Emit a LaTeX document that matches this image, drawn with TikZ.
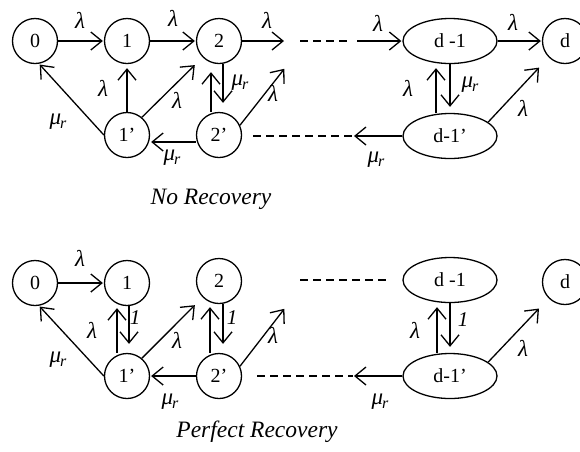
\documentclass[tikz,border=0pt]{standalone}
\usepackage{fontspec}
\setmainfont{Liberation Serif}
\usetikzlibrary{arrows.meta,shapes.geometric}
\newcommand{\lam}{{\fontsize{23}{23}\selectfont\itshape λ}}
\newcommand{\mur}{{\fontsize{23}{23}\selectfont\itshape μ\kern-1pt\raisebox{-3.5pt}{\fontsize{16}{16}\selectfont r}}}
\newcommand{\one}{{\fontsize{21}{21}\selectfont\itshape 1}}
\tikzset{
  st/.style={draw, line width=1.3pt, circle, minimum size=45pt, inner sep=0pt, font=\fontsize{20}{20}\selectfont},
  el/.style={draw, line width=1.3pt, ellipse, minimum width=94pt, minimum height=45pt, inner sep=0pt, font=\fontsize{20}{20}\selectfont},
  arr/.style={line width=1.3pt, -{Straight Barb[length=11pt,width=18pt,line width=1.3pt]}, shorten >=1pt},
  dsh/.style={line width=1.3pt, dash pattern=on 8pt off 5pt},
  lab/.style={inner sep=0pt},
  captxt/.style={inner sep=0pt, font=\fontsize{23.5}{23.5}\selectfont\itshape}
}
\begin{document}
\begin{tikzpicture}[x=1pt,y=-1pt]
\useasboundingbox (0,0) rectangle (580,451);
% ---------- No Recovery ----------
\node[st] (n0) at (35,41) {0};
\node[st] (n1) at (127,41) {1};
\node[st] (n2) at (219,41) {2};
\node[el] (nd1) at (450,41) {d -1};
\node[st] (nd) at (565,41) {d};
\node[st] (n1p) at (127,135) {1’};
\node[st] (n2p) at (219,135) {2’};
\node[el] (nd1p) at (450,136) {d-1’};
\coordinate (a1) at (285,41);
\coordinate (a2) at (300,41);
\coordinate (a3) at (348,41);
\coordinate (a4) at (357,41);
\coordinate (b1) at (285,68);
\coordinate (b2) at (253,136);
\coordinate (b3) at (353,136);

\draw[arr] (n0) -- (n1);
\draw[arr] (n1) -- (n2);
\draw[arr] (n2) -- (a1);
\draw[dsh] (a2) -- (a3);
\draw[arr] (a4) -- (nd1);
\draw[arr] (nd1) -- (nd);
\draw[arr] (n1p.west) -- (n0.-80);
\draw[arr, shorten >=4pt] (n1p) -- (n1);
\draw[arr, shorten >=11pt] (n1p.50) -- (n2.-135);
\draw[arr, shorten >=8pt] ([xshift=-8pt]n2p.north) -- ([xshift=-8pt]n2.south);
\draw[arr, shorten >=9pt] ([xshift=4pt]n2.south) -- ([xshift=4pt]n2p.north);
\draw[arr] (n2p.25) -- (b1);
\draw[arr] ([yshift=-7pt]n2p.west) -- ([yshift=-7pt]n1p.east);
\draw[dsh] (b2) -- (b3);
\draw[arr] (nd1p.west) -- (b3);
\draw[arr, shorten >=4pt] ([xshift=-14pt]nd1p.north) -- ([xshift=-14pt]nd1.south);
\draw[arr, shorten >=6pt] (nd1.south) -- (nd1p.north);
\draw[arr, shorten >=14pt] (nd1p.20) -- (nd.-135);

\node[lab] (t1) at (80,20) {\lam};
\node[lab] (t2) at (173,18) {\lam};
\node[lab] (t3) at (267,20) {\lam};
\node[lab] (t4) at (378,23) {\lam};
\node[lab] (t5) at (513,22) {\lam};
\node[lab] (t6) at (103,88) {\lam};
\node[lab] (t7) at (177,100) {\lam};
\node[lab] (t8) at (273,93) {\lam};
\node[lab] (t9) at (408,88) {\lam};
\node[lab] (t10) at (523,108) {\lam};
\node[lab] (t11) at (240,83) {\mur};
\node[lab] (t12) at (58,122) {\mur};
\node[lab] (t13) at (172,158) {\mur};
\node[lab] (t14) at (470,85) {\mur};
\node[lab] (t15) at (376,160) {\mur};
\node[captxt] (c1) at (211,199) {No Recovery};

% ---------- Perfect Recovery ----------
\node[st] (m0) at (35,283) {0};
\node[st] (m1) at (127,283) {1};
\node[st] (m2) at (219,281) {2};
\node[el] (md1) at (450,280) {d -1};
\node[st] (md) at (565,282) {d};
\node[st] (m1p) at (127,376) {1’};
\node[st] (m2p) at (219,376) {2’};
\node[el] (md1p) at (450,376) {d-1’};
\coordinate (e1) at (300,280);
\coordinate (e2) at (390,280);
\coordinate (f1) at (285,308);
\coordinate (f2) at (257,376);
\coordinate (f3) at (353,376);

\draw[arr] (m0) -- (m1);
\draw[arr] (m1p.west) -- (m0.-80);
\draw[arr, shorten >=2pt] ([xshift=-10pt]m1p.north) -- ([xshift=-10pt]m1.south);
\draw[arr, shorten >=9pt] ([xshift=2pt]m1.south) -- ([xshift=2pt]m1p.north);
\draw[arr, shorten >=11pt] (m1p.50) -- (m2.-135);
\draw[arr, shorten >=3pt] ([xshift=-9pt]m2p.north) -- ([xshift=-9pt]m2.south);
\draw[arr, shorten >=9pt] ([xshift=4pt]m2.south) -- ([xshift=4pt]m2p.north);
\draw[arr] (m2p.25) -- (f1);
\draw[arr] (m2p) -- (m1p);
\draw[dsh] (e1) -- (e2);
\draw[dsh] (f2) -- (f3);
\draw[arr] (md1p.west) -- (f3);
\draw[arr, shorten >=4pt] ([xshift=-13pt]md1p.north) -- ([xshift=-13pt]md1.south);
\draw[arr, shorten >=6pt] (md1.south) -- (md1p.north);
\draw[arr, shorten >=14pt] (md1p.20) -- (md.-135);

\node[lab] (u1) at (80,258) {\lam};
\node[lab] (u2) at (92,330) {\lam};
\node[lab] (u3) at (177,340) {\lam};
\node[lab] (u4) at (273,335) {\lam};
\node[lab] (u5) at (415,330) {\lam};
\node[lab] (u6) at (523,348) {\lam};
\node[lab] (u7) at (135,318) {\one};
\node[lab] (u8) at (232,318) {\one};
\node[lab] (u9) at (463,320) {\one};
\node[lab] (u10) at (58,360) {\mur};
\node[lab] (u11) at (170,402) {\mur};
\node[lab] (u12) at (380,402) {\mur};
\node[captxt] (c2) at (257,432) {Perfect Recovery};
\end{tikzpicture}
\end{document}
